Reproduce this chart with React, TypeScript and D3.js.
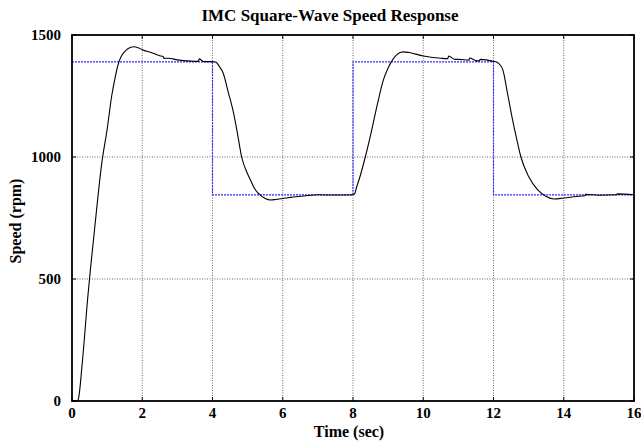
import React from "react";
import * as d3 from "d3";

const timeSec = [
  0, 0.15, 0.19, 0.29, 0.45, 0.64, 0.85, 1.0, 1.13, 1.22, 1.3, 1.35, 1.4, 1.5, 1.6, 1.75, 1.9, 2.0,
  2.25, 2.5, 2.6, 2.62, 2.75, 3.0, 3.25, 3.5, 3.6, 3.62, 3.75, 4.0, 4.1, 4.2, 4.3, 4.45, 4.6, 4.7, 4.83, 5.0,
  5.1, 5.2, 5.33, 5.5, 5.65, 5.8, 6.0, 6.3, 6.6, 7.0, 7.5, 8.0, 8.05, 8.1, 8.2, 8.35, 8.5, 8.7, 8.87, 9.0,
  9.1, 9.2, 9.3, 9.43, 9.6, 10.0, 10.5, 10.7, 10.72, 10.9, 11.0, 11.3, 11.32, 11.5, 11.6, 11.62, 12.0, 12.1, 12.2, 12.26,
  12.4, 12.54, 12.65, 12.78, 13.0, 13.26, 13.5, 13.73, 14.0, 14.5, 14.6, 14.62, 15.0, 15.5, 15.52, 16.0,
];
const speedRpm = [
  0, 0, 14, 152, 426, 700, 977, 1113, 1250, 1320, 1372, 1395, 1412, 1432, 1445, 1452, 1447, 1440,
  1428, 1415, 1411, 1404, 1405, 1398, 1394, 1392, 1392, 1402, 1391, 1391, 1388, 1370, 1345, 1265, 1180, 1105, 1000, 930,
  900, 870, 848, 830, 824, 826, 830, 836, 840, 845, 844, 845, 850, 875, 920, 1000, 1090, 1220, 1318, 1365,
  1392, 1412, 1425, 1431, 1428, 1414, 1405, 1403, 1414, 1400, 1400, 1397, 1406, 1395, 1394, 1400, 1392, 1388, 1375, 1360,
  1260, 1154, 1080, 1000, 920, 865, 838, 828, 832, 840, 841, 847, 843, 845, 849, 845,
];
const setpointTime = [0, 4, 4, 8, 8, 12, 12, 16];
const setpointRpm = [1390, 1390, 845, 845, 1390, 1390, 845, 845];
const xTicks = [0, 2, 4, 6, 8, 10, 12, 14, 16];
const yTicks = [0, 500, 1000, 1500];

const W = 641;
const H = 445;
const M = { left: 72, right: 634, top: 35, bottom: 401 };
const FONT = "'Liberation Serif', 'Times New Roman', serif";

export default function App() {
  const x = d3.scaleLinear().domain([0, 16]).range([M.left, M.right]);
  const y = d3.scaleLinear().domain([0, 1500]).range([M.bottom, M.top]);

  const resp = timeSec.map((t, i) => [t, speedRpm[i]] as [number, number]);
  const sp = setpointTime.map((t, i) => [t, setpointRpm[i]] as [number, number]);

  const respLine = d3
    .line<[number, number]>()
    .x((d) => x(d[0]))
    .y((d) => y(d[1]))
    .curve(d3.curveMonotoneX)(resp) as string;
  const spLine = d3
    .line<[number, number]>()
    .x((d) => x(d[0]))
    .y((d) => y(d[1]))(sp) as string;

  return (
    <svg
      width={W}
      height={H}
      style={{ position: "absolute", left: 0, top: 0, background: "#fff" }}
      fontFamily={FONT}
      fontWeight="bold"
    >
      <text x={330} y={21} textAnchor="middle" fontSize={17}>
        IMC Square-Wave Speed Response
      </text>

      {/* grid */}
      {xTicks.slice(1, -1).map((t) => (
        <line
          key={"gx" + t}
          x1={x(t)}
          x2={x(t)}
          y1={M.top}
          y2={M.bottom}
          stroke="#444"
          strokeWidth={0.8}
          strokeDasharray="1,1.5"
        />
      ))}
      {yTicks.slice(1, -1).map((v) => (
        <line
          key={"gy" + v}
          x1={M.left}
          x2={M.right}
          y1={y(v)}
          y2={y(v)}
          stroke="#444"
          strokeWidth={0.8}
          strokeDasharray="1,1.5"
        />
      ))}

      {/* ticks */}
      {xTicks.map((t) => (
        <g key={"tx" + t}>
          <line x1={x(t)} x2={x(t)} y1={M.bottom} y2={M.bottom - 4} stroke="#000" />
          <line x1={x(t)} x2={x(t)} y1={M.top} y2={M.top + 4} stroke="#000" />
          <text x={x(t)} y={418} textAnchor="middle" fontSize={15}>
            {t}
          </text>
        </g>
      ))}
      {yTicks.map((v) => (
        <g key={"ty" + v}>
          <line x1={M.left} x2={M.left + 4} y1={y(v)} y2={y(v)} stroke="#000" />
          <line x1={M.right} x2={M.right - 4} y1={y(v)} y2={y(v)} stroke="#000" />
          <text x={61} y={y(v) + 5} textAnchor="end" fontSize={15}>
            {v}
          </text>
        </g>
      ))}

      {/* setpoint */}
      <path d={spLine} fill="none" stroke="#2a2aff" strokeWidth={1.2} strokeDasharray="2,1" />
      {/* response */}
      <path d={respLine} fill="none" stroke="#000" strokeWidth={1.1} />

      {/* frame */}
      <rect
        x={M.left}
        y={M.top}
        width={M.right - M.left}
        height={M.bottom - M.top}
        fill="none"
        stroke="#000"
        strokeWidth={1.8}
      />

      <text x={349} y={437} textAnchor="middle" fontSize={16}>
        Time (sec)
      </text>
      <text
        transform={`translate(21,221) rotate(-90)`}
        textAnchor="middle"
        fontSize={16}
      >
        Speed (rpm)
      </text>
    </svg>
  );
}
